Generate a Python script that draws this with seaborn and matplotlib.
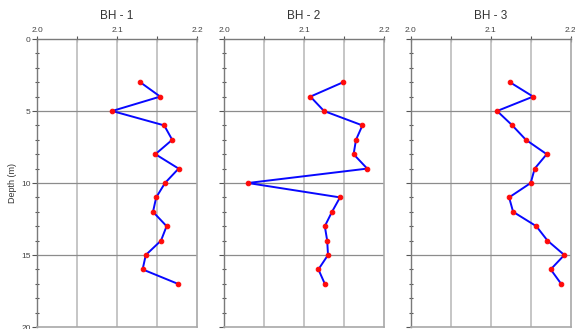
import numpy as np
import pandas as pd
import seaborn as sns
import matplotlib
matplotlib.use("Agg")
import matplotlib.pyplot as plt
from matplotlib.ticker import MultipleLocator, FixedLocator

sns.set_theme(style="white")
plt.rcParams["font.family"] = ["Liberation Sans", "DejaVu Sans"]

# Depth profiles for three boreholes
depth = [3, 4, 5, 6, 7, 8, 9, 10, 11, 12, 13, 14, 15, 16, 17]
bh1 = [2.129, 2.154, 2.094, 2.159, 2.169, 2.148, 2.177, 2.160, 2.149, 2.145,
       2.162, 2.155, 2.136, 2.132, 2.176]
bh2 = [2.149, 2.108, 2.125, 2.173, 2.165, 2.162, 2.179, 2.030, 2.145, 2.135,
       2.126, 2.129, 2.130, 2.118, 2.126]
bh3 = [2.124, 2.153, 2.108, 2.127, 2.144, 2.170, 2.155, 2.150, 2.123, 2.128,
       2.157, 2.171, 2.192, 2.175, 2.188]
titles = ["BH - 1", "BH - 2", "BH - 3"]
x_ticks = [2.0, 2.1, 2.2]
x_tick_labels = ["2.0", "2.1", "2.2"]
y_ticks = [0, 5, 10, 15, 20]

df = pd.DataFrame({
    "depth": depth * 3,
    "value": bh1 + bh2 + bh3,
    "hole": np.repeat(titles, len(depth)),
})

W, H = 575, 329
fig = plt.figure(figsize=(W / 100, H / 100), dpi=100)
fig.patch.set_facecolor("white")

lefts = [37, 224, 410.7]
pw = 160
top_px, bot_px = 39, 327

for i, (name, left) in enumerate(zip(titles, lefts)):
    ax = fig.add_axes([left / W, 1 - bot_px / H, pw / W, (bot_px - top_px) / H])
    sub = df[df["hole"] == name]
    sns.lineplot(data=sub, x="value", y="depth", sort=False, estimator=None,
                 orient="y", ax=ax, color="#0808ff", linewidth=1.4,
                 marker="o", markersize=3.3, markerfacecolor="#ff0a0a",
                 markeredgecolor="#ff0a0a", zorder=3)
    ax.set_xlim(2.0, 2.2)
    ax.set_ylim(20, 0)

    # grid: vertical at every 0.05, horizontal at major depths
    for gx in [2.05, 2.1, 2.15]:
        ax.axvline(gx, color="#c2c2c2", lw=1.3, zorder=1)
    for gy in [5, 10, 15]:
        ax.axhline(gy, color="#8c8c8c", lw=0.9, zorder=1)

    ax.xaxis.tick_top()
    ax.xaxis.set_major_locator(FixedLocator(x_ticks))
    ax.set_xticklabels(x_tick_labels)
    ax.xaxis.set_minor_locator(FixedLocator([2.05, 2.15]))
    ax.yaxis.set_major_locator(FixedLocator(y_ticks))
    ax.yaxis.set_minor_locator(MultipleLocator(1))

    ax.tick_params(axis="x", which="major", direction="inout", length=5,
                   width=0.8, color="#555555", labelsize=6, pad=1,
                   labelcolor="#444444")
    ax.tick_params(axis="x", which="minor", direction="inout", length=5,
                   width=0.8, color="#555555", top=True)
    ax.tick_params(axis="y", which="major", direction="out", length=3.5,
                   width=0.8, color="#555555", labelsize=6, pad=1,
                   labelcolor="#444444", left=True)
    ax.tick_params(axis="y", which="minor", direction="inout", length=3,
                   width=0.8, color="#555555", left=True)

    for side, sp in ax.spines.items():
        sp.set_visible(True)
        sp.set_color("#7a7a7a" if side in ("top", "left") else "#a8a8a8")
        sp.set_linewidth(1.0 if side in ("top", "left") else 1.2)

    ax.set_xlabel("")
    if i == 0:
        ax.set_ylabel("Depth (m)", fontsize=6.5, color="#333333", labelpad=3)
    else:
        ax.set_ylabel("")
        ax.set_yticklabels([])

    fig.text((left + pw / 2) / W, 1 - 16 / H, name, ha="center", va="center",
             fontsize=8.5, color="#333333")

fig.savefig("out.png", dpi=100, facecolor="white")
